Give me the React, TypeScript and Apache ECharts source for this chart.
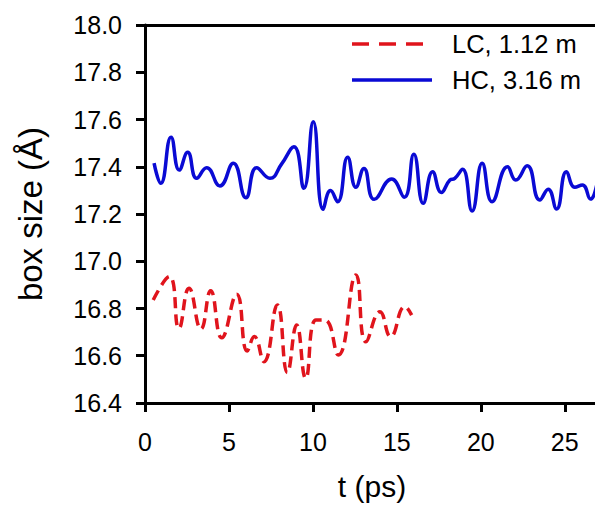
import React, { useEffect, useRef } from "react";
import * as echarts from "echarts";

const hcTime = [0.54, 0.94, 1.55, 2.04, 2.54, 3.08, 3.67, 4.46, 5.26, 6.01, 6.65, 7.44, 8.14, 8.87, 9.46, 10.02, 10.61, 11.05, 11.47, 12.07, 12.56, 13.04, 13.65, 14.69, 15.44, 16.01, 16.57, 17.13, 17.65, 18.16, 18.45, 18.91, 19.48, 20.08, 20.67, 21.59, 22.08, 22.76, 23.51, 24.01, 24.51, 25.1, 25.6, 26.05, 26.53, 26.96];
const hcSize = [17.415, 17.33, 17.525, 17.386, 17.461, 17.351, 17.396, 17.319, 17.415, 17.269, 17.396, 17.351, 17.412, 17.485, 17.309, 17.591, 17.22, 17.299, 17.252, 17.44, 17.313, 17.393, 17.262, 17.348, 17.271, 17.453, 17.245, 17.379, 17.291, 17.344, 17.351, 17.389, 17.213, 17.415, 17.252, 17.4, 17.344, 17.404, 17.259, 17.305, 17.221, 17.379, 17.313, 17.323, 17.263, 17.344];

const lcTime = [0.49, 1.45, 2.02, 2.62, 3.33, 3.91, 4.57, 5.46, 6.09, 6.51, 7.08, 7.88, 8.48, 9.03, 9.57, 10.18, 10.71, 11.51, 12.56, 13.16, 13.99, 14.63, 15.48, 15.88];
const lcSize = [16.836, 16.935, 16.716, 16.886, 16.713, 16.875, 16.676, 16.86, 16.62, 16.681, 16.575, 16.815, 16.529, 16.73, 16.505, 16.751, 16.751, 16.603, 16.942, 16.659, 16.786, 16.681, 16.808, 16.772];

const xTicks = [0, 5, 10, 15, 20, 25];
const seriesNames = ["LC, 1.12 m", "HC, 3.16 m"];
const xTitle = "t (ps)";
const yTitle = "box size (Å)";

const FONT = "'Liberation Sans', Arial, sans-serif";
const RED = "#e0141c";
const BLUE = "#0a0ad4";

export default function App() {
  const ref = useRef<HTMLDivElement>(null);
  useEffect(() => {
    if (!ref.current) return;
    const chart = echarts.init(ref.current, null, { renderer: "svg" });
    const hc = hcTime.map((t, i) => [t, hcSize[i]]);
    const lc = lcTime.map((t, i) => [t, lcSize[i]]);
    const axisLineStyle = { color: "#000", width: 3 };
    chart.setOption({
      animation: false,
      backgroundColor: "#fff",
      textStyle: { fontFamily: FONT },
      grid: { left: 145, right: 0, top: 25, bottom: 111, containLabel: false },
      xAxis: [
        {
          type: "value",
          min: 0,
          max: 26.8,
          interval: 5,
          position: "bottom",
          axisLine: { show: true, onZero: false, lineStyle: axisLineStyle },
          axisTick: { show: true, inside: false, length: 9, lineStyle: { color: "#000", width: 3 }, customValues: xTicks },
          axisLabel: { show: true, margin: 26, fontSize: 25, color: "#000", fontFamily: FONT, customValues: xTicks },
          splitLine: { show: false },
        },
        {
          type: "value",
          min: 0,
          max: 26.8,
          position: "top",
          axisLine: { show: true, onZero: false, lineStyle: axisLineStyle },
          axisTick: { show: false },
          axisLabel: { show: false },
          splitLine: { show: false },
        },
      ],
      yAxis: {
        type: "value",
        min: 16.4,
        max: 18.0,
        interval: 0.2,
        axisLine: { show: true, onZero: false, lineStyle: axisLineStyle },
        axisTick: { show: true, inside: false, length: 9, lineStyle: { color: "#000", width: 3 } },
        axisLabel: {
          show: true,
          margin: 23,
          fontSize: 25,
          color: "#000",
          fontFamily: FONT,
          formatter: (v: number) => v.toFixed(1),
        },
        splitLine: { show: false },
      },
      series: [
        {
          name: seriesNames[0],
          type: "line",
          data: lc,
          smooth: 0.5,
          showSymbol: false,
          symbol: "none",
          lineStyle: { color: RED, width: 3.5, type: [11, 6] },
          z: 3,
        },
        {
          name: seriesNames[1],
          type: "line",
          data: hc,
          smooth: 0.5,
          showSymbol: false,
          symbol: "none",
          lineStyle: { color: BLUE, width: 3.5 },
          z: 3,
        },
      ],
      graphic: [
        {
          type: "line",
          shape: { x1: 352, y1: 44, x2: 432, y2: 44 },
          style: { stroke: RED, lineWidth: 3.5, lineDash: [17, 10] },
        },
        {
          type: "text",
          x: 452,
          y: 44,
          style: { text: seriesNames[0], fontSize: 25.5, fontFamily: FONT, fill: "#000", align: "left", verticalAlign: "middle" },
        },
        {
          type: "line",
          shape: { x1: 352, y1: 80, x2: 432, y2: 80 },
          style: { stroke: BLUE, lineWidth: 3.5 },
        },
        {
          type: "text",
          x: 452,
          y: 80,
          style: { text: seriesNames[1], fontSize: 25.5, fontFamily: FONT, fill: "#000", align: "left", verticalAlign: "middle" },
        },
        {
          type: "text",
          x: 372,
          y: 486,
          style: { text: xTitle, fontSize: 30, fontFamily: FONT, fill: "#000", align: "center", verticalAlign: "middle" },
        },
        {
          type: "text",
          x: 30,
          y: 214,
          rotation: Math.PI / 2,
          style: { text: yTitle, fontSize: 33, fontFamily: FONT, fill: "#000", align: "center", verticalAlign: "middle" },
        },
      ],
    });
    return () => chart.dispose();
  }, []);
  return (
    <div
      ref={ref}
      style={{ position: "fixed", left: 0, top: 0, width: 595, height: 514, background: "#fff" }}
    />
  );
}
